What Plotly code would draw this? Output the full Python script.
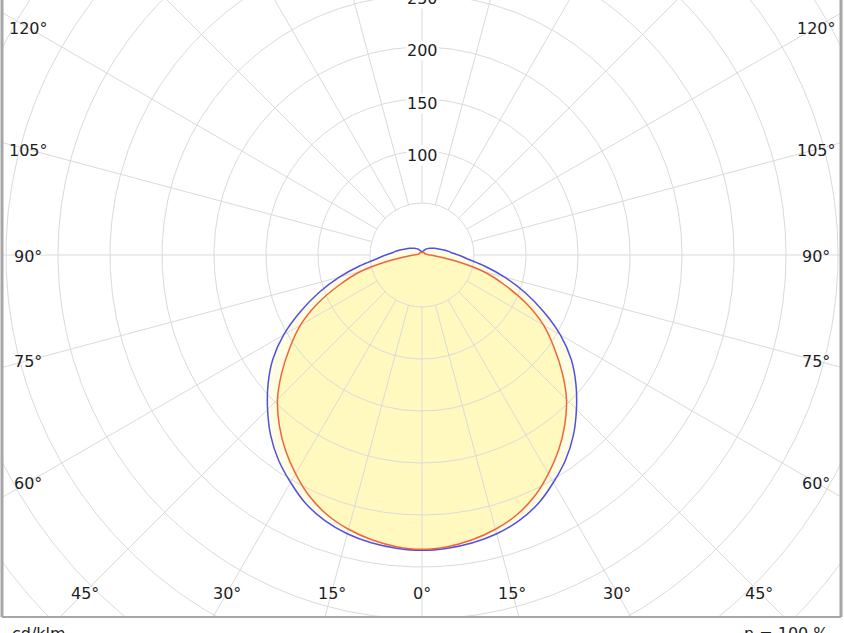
import numpy as np
import plotly.graph_objects as go

# ---- data (cd/klm), gamma angle in degrees ----
ANGLES = list(range(0, 181, 5))
C0_C180 = [283, 281.5, 278, 273, 266, 256, 243, 229, 213.5, 196.5, 176, 155, 135, 111, 85, 61.2, 32, 14,
           8, 5, 4, 3.5, 3, 3, 3, 3, 3, 3, 3, 3, 3, 2.5, 2.5, 2.5, 2.5, 2.5, 2.5]
C90_C270 = [284, 283, 281, 277.5, 272, 264, 252.6, 240.6, 226.4, 210, 193.2, 175.2, 153.6, 129.1, 105.4, 82.3,
            61, 44, 35, 28, 24, 20, 17, 15, 13, 11.5, 10, 9, 8, 7, 6, 5, 4.5, 4, 3.5, 3, 3]
RADIAL_TICKS = [100, 150, 200, 250]
ANGLE_TICKS = [0, 15, 30, 45, 60, 75, 90, 105, 120]
GRID_RADII = list(range(50, 651, 50))
GRID_ANGLES = list(range(0, 360, 15))
UNIT_LABEL = "cd/klm"
EFFICIENCY_LABEL = "η = 100 %"

# ---- layout geometry (pixels) ----
W, H = 844, 633
ML, MR, MT, MB = 2, 3, 0, 16
CX, CY = 422, 255          # pole position in pixels
PX_PER_UNIT = 1.04
x_range = [(ML - CX) / PX_PER_UNIT, (W - MR - CX) / PX_PER_UNIT]
y_range = [-(H - MB - CY) / PX_PER_UNIT, (CY - MT) / PX_PER_UNIT]
PLOT_H = H - MT - MB

FONT = dict(family="DejaVu Sans", size=16, color="#1e1e1e")
GRID_COLOR = "#dadada"


def curve_xy(angles, values):
    a = np.array(angles, dtype=float)
    v = np.array(values, dtype=float)
    full_a = np.concatenate([-a[::-1], a[1:]])
    full_v = np.concatenate([v[::-1], v[1:]])
    t = np.radians(full_a)
    return full_v * np.sin(t), -full_v * np.cos(t)


fig = go.Figure()

bx, by = curve_xy(ANGLES, C90_C270)
rx, ry = curve_xy(ANGLES, C0_C180)
SPL = dict(shape="spline", smoothing=0.8)

# fills
fig.add_trace(go.Scatter(x=bx, y=by, mode="lines", fill="toself", fillcolor="#FFFDE2",
                         line=dict(width=0, color="rgba(0,0,0,0)", **SPL), hoverinfo="skip"))
fig.add_trace(go.Scatter(x=rx, y=ry, mode="lines", fill="toself", fillcolor="#FFF9C0",
                         line=dict(width=0, color="rgba(0,0,0,0)", **SPL), hoverinfo="skip"))

# grid circles
phi = np.linspace(0, 2 * np.pi, 721)
for r in GRID_RADII:
    fig.add_trace(go.Scatter(x=r * np.cos(phi), y=r * np.sin(phi), mode="lines",
                             line=dict(color=GRID_COLOR, width=1), hoverinfo="skip"))
# radial lines
r0, r1 = GRID_RADII[0], 800
for a in GRID_ANGLES:
    t = np.radians(a)
    fig.add_trace(go.Scatter(x=[r0 * np.sin(t), r1 * np.sin(t)], y=[-r0 * np.cos(t), -r1 * np.cos(t)],
                             mode="lines", line=dict(color=GRID_COLOR, width=1), hoverinfo="skip"))

# curves
fig.add_trace(go.Scatter(x=bx, y=by, mode="lines",
                         line=dict(color="#5050E6", width=1.5, **SPL), hoverinfo="skip"))
fig.add_trace(go.Scatter(x=rx, y=ry, mode="lines",
                         line=dict(color="#F0643C", width=1.5, **SPL), hoverinfo="skip"))

annotations = []
# radial value labels (paper coords so a label beyond the top edge is still drawn, cut by the page)
for r in RADIAL_TICKS:
    yp = (r - y_range[0]) / (y_range[1] - y_range[0])
    annotations.append(dict(x=0, y=yp, xref="x", yref="paper", text=str(r), showarrow=False,
                            yanchor="middle", yshift=-4, font=FONT, bgcolor="white", borderpad=0))
# angle labels on an inset rectangle
inset_x = (CX - 28) / PX_PER_UNIT
inset_y = (592 - CY) / PX_PER_UNIT
for a in ANGLE_TICKS:
    t = np.radians(a)
    s, c = np.sin(t), np.cos(t)
    cands = []
    if s > 1e-9:
        cands.append(inset_x / s)
    if c > 1e-9:
        cands.append(inset_y / c)
    d = min(cands)
    for sign in ([1] if a == 0 else [1, -1]):
        annotations.append(dict(x=sign * d * s, y=-d * c, xref="x", yref="y", text=f"{a}°",
                                showarrow=False, font=FONT, yshift=-1))

yb = -5 / PLOT_H
annotations.append(dict(x=8 / (W - ML - MR), y=yb, xref="paper", yref="paper", text=UNIT_LABEL,
                        xanchor="left", yanchor="top", showarrow=False, font=FONT))
annotations.append(dict(x=1 - 10 / (W - ML - MR), y=yb, xref="paper", yref="paper", text=EFFICIENCY_LABEL,
                        xanchor="right", yanchor="top", showarrow=False, font=FONT))

frame = dict(color="#a6a6a6", width=3)
shapes = [
    dict(type="line", xref="paper", yref="paper", x0=0, x1=0, y0=0, y1=1, line=frame),
    dict(type="line", xref="paper", yref="paper", x0=1, x1=1, y0=0, y1=1, line=frame),
    dict(type="line", xref="paper", yref="paper", x0=0, x1=1, y0=0, y1=0,
         line=dict(color="#a6a6a6", width=2)),
]

fig.update_layout(
    width=W, height=H,
    margin=dict(l=ML, r=MR, t=MT, b=MB, pad=0),
    paper_bgcolor="white", plot_bgcolor="white",
    showlegend=False, hovermode=False,
    xaxis=dict(range=x_range, visible=False, fixedrange=True),
    yaxis=dict(range=y_range, visible=False, fixedrange=True),
    annotations=annotations, shapes=shapes,
)

fig.write_html("out.html", config={"displayModeBar": False, "staticPlot": True},
               post_script="document.body.style.margin='0px';document.body.style.overflow='hidden';")
